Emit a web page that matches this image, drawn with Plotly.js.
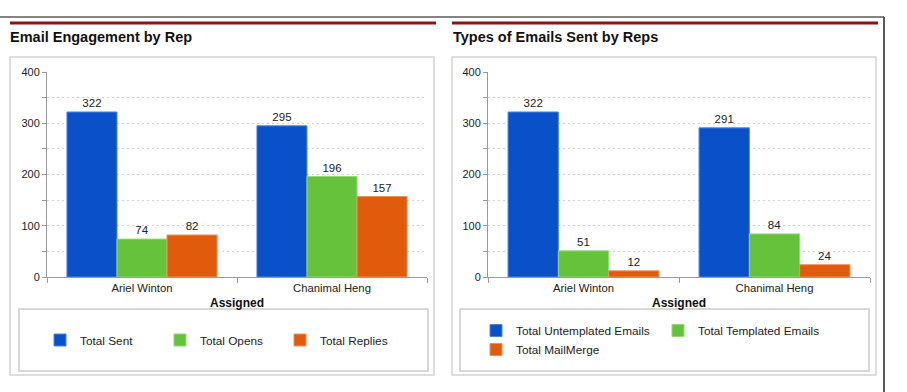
<!DOCTYPE html>
<html>
<head>
<meta charset="utf-8">
<script src="https://cdn.plot.ly/plotly-3.0.1.min.js"></script>
<style>html,body{margin:0;padding:0;background:#fff;}#chart{width:907px;height:392px;}</style>
</head>
<body>
<div id="chart"></div>
<script>
// ---- data ----
const reps = ['Ariel Winton', 'Chanimal Heng'];
const totalSent = [322, 295];
const totalOpens = [74, 196];
const totalReplies = [82, 157];
const untemplated = [322, 291];
const templated = [51, 84];
const mailMerge = [12, 24];
const leftTitle = 'Email Engagement by Rep';
const rightTitle = 'Types of Emails Sent by Reps';
const xTitle = 'Assigned';
const yTicks = [0, 100, 200, 300, 400];

// ---- styling ----
const W = 907, H = 392;
const X = p => p / W;
const Y = p => 1 - p / H;
const BLUE = '#0a50c8', GREEN = '#67c23b', ORANGE = '#e05b0b';
const FONT = 'Liberation Sans, Arial, sans-serif';

function bar(name, x, y, color, edge, xa, ya, leg, grp) {
  return {
    type: 'bar', name: name, x: x, y: y, xaxis: xa, yaxis: ya, legend: leg, legendgroup: grp,
    marker: {color: color, line: {color: edge, width: 1}},
    texttemplate: '%{y}', textposition: 'outside', cliponaxis: false,
    textfont: {size: 11.5, color: '#222', family: FONT},
    hoverinfo: 'skip'
  };
}

const data = [
  bar('Total Sent', reps, totalSent, BLUE, '#4d86e0', 'x', 'y', 'legend', 'a1'),
  bar('Total Opens', reps, totalOpens, GREEN, '#93d876', 'x', 'y', 'legend', 'a2'),
  bar('Total Replies', reps, totalReplies, ORANGE, '#f0915a', 'x', 'y', 'legend', 'a3'),
  bar('Total Untemplated Emails', reps, untemplated, BLUE, '#4d86e0', 'x2', 'y2', 'legend2', 'col1'),
  bar('Total Templated Emails', reps, templated, GREEN, '#93d876', 'x2', 'y2', 'legend2', 'col2'),
  bar('Total MailMerge', reps, mailMerge, ORANGE, '#f0915a', 'x2', 'y2', 'legend2', 'col1')
];

function xAxis(domain, anchor) {
  return {
    domain: domain, anchor: anchor, type: 'category',
    showline: true, linecolor: '#9a9a9a', linewidth: 1,
    ticks: 'outside', tickson: 'boundaries', ticklen: 5, tickcolor: '#9a9a9a',
    tickfont: {size: 11.3, color: '#222', family: FONT},
    showgrid: false, fixedrange: true,
    title: {text: xTitle, font: {size: 12, color: '#111', family: FONT, weight: 'bold'}, standoff: 6}
  };
}
function yAxis(anchor) {
  return {
    domain: [Y(277), Y(72)], anchor: anchor, range: [0, 400],
    tickvals: yTicks, showline: true, linecolor: '#9a9a9a', linewidth: 1,
    ticks: 'outside', ticklen: 4, tickcolor: '#9a9a9a',
    tickfont: {size: 11, color: '#222', family: FONT},
    showgrid: true, gridcolor: '#d2d2d2', griddash: '2px,3px', gridwidth: 1,
    minor: {dtick: 50, ticks: 'outside', ticklen: 4, tickcolor: '#9a9a9a',
            showgrid: true, gridcolor: '#d2d2d2', griddash: '2px,3px', gridwidth: 1},
    zeroline: false, fixedrange: true
  };
}

function line(x0, y0, x1, y1, color, width) {
  return {type: 'line', xref: 'paper', yref: 'paper', x0: X(x0), y0: Y(y0), x1: X(x1), y1: Y(y1),
          line: {color: color, width: width}, layer: 'below'};
}
function rect(x0, y0, x1, y1, color, width) {
  return {type: 'rect', xref: 'paper', yref: 'paper', x0: X(x0), y0: Y(y0), x1: X(x1), y1: Y(y1),
          line: {color: color, width: width}, fillcolor: 'rgba(0,0,0,0)', layer: 'below'};
}

const legendFont = {size: 11.8, color: '#222', family: FONT};

const layout = {
  width: W, height: H, margin: {l: 0, r: 0, t: 0, b: 0, autoexpand: false},
  paper_bgcolor: '#fff', plot_bgcolor: 'rgba(0,0,0,0)',
  font: {family: FONT, color: '#333', size: 11},
  barmode: 'group', bargap: 0.21, bargroupgap: 0,
  xaxis: xAxis([X(47), X(427)], 'y'),
  yaxis: yAxis('x'),
  xaxis2: xAxis([X(488), X(870)], 'y2'),
  yaxis2: yAxis('x2'),
  legend: {orientation: 'h', x: X(40), xanchor: 'left', y: Y(340), yanchor: 'middle',
           entrywidth: 75, entrywidthmode: 'pixels', bgcolor: 'rgba(0,0,0,0)', font: legendFont},
  legend2: {orientation: 'h', x: X(476), xanchor: 'left', y: Y(340), yanchor: 'middle',
           traceorder: 'grouped', tracegroupgap: 0,
           entrywidth: 137, entrywidthmode: 'pixels', bgcolor: 'rgba(0,0,0,0)', font: legendFont},
  annotations: [
    {text: leftTitle, xref: 'paper', yref: 'paper', x: X(8), y: Y(37), xanchor: 'left', yanchor: 'middle',
     showarrow: false, font: {size: 14.5, color: '#111', family: FONT, weight: 'bold'}},
    {text: rightTitle, xref: 'paper', yref: 'paper', x: X(451), y: Y(37), xanchor: 'left', yanchor: 'middle',
     showarrow: false, font: {size: 14.5, color: '#111', family: FONT, weight: 'bold'}}
  ],
  shapes: [
    line(0, 17, 884, 17, '#5a5a5a', 1.5),
    line(884, 17, 884, 392, '#5a5a5a', 2),
    line(10, 23, 436, 23, '#8b1515', 3),
    line(452, 23, 878, 23, '#8b1515', 3),
    rect(10, 57, 434, 375, '#d4d4d4', 1.5),
    rect(452, 57, 876, 375, '#d4d4d4', 1.5),
    rect(19, 309, 428, 371, '#cccccc', 1.5),
    rect(460, 309, 869, 371, '#cccccc', 1.5)
  ]
};

Plotly.newPlot('chart', data, layout, {staticPlot: true, displayModeBar: false});
</script>
</body>
</html>
